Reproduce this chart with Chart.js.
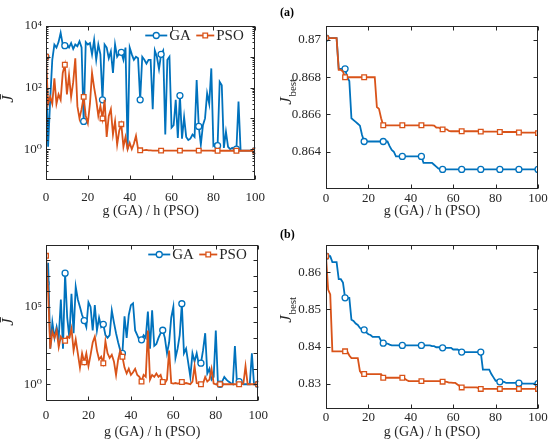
<!DOCTYPE html>
<html>
<head>
<meta charset="utf-8">
<script src="https://cdn.jsdelivr.net/npm/chart.js@4.4.1/dist/chart.umd.min.js"></script>
<style>
  body { margin: 0; background: #fff; }
  canvas { position: absolute; }
</style>
</head>
<body>
<canvas id="panelA1" width="275" height="221" style="left:0;top:0"></canvas>
<canvas id="panelA2" width="275" height="221" style="left:275px;top:0"></canvas>
<canvas id="panelB1" width="275" height="221" style="left:0;top:221px"></canvas>
<canvas id="panelB2" width="275" height="221" style="left:275px;top:221px"></canvas>
<script>
// generation index 0..100 shared by every series
const gens = Array.from({ length: 101 }, (_, i) => i);
const xTicks = [0, 20, 40, 60, 80, 100];
const markIdx = [0, 9, 18, 27, 36, 45, 55, 64, 73, 82, 91, 100];

// (a) mean cost J per generation
const gaMeanA = [
  1000, 1.2, 40, 800, 2500, 2000, 3000, 6000, 2500, 2300,
  2500, 2000, 2800, 1800, 2500, 2200, 3200, 2000, 8, 3000,
  2500, 2800, 1200, 3500, 800, 2500, 1200, 40, 2500, 2000,
  900, 1500, 300, 2500, 1000, 1300, 1400, 800, 2000, 1,
  2000, 1200, 800, 1000, 900, 40, 1000, 800, 600, 800,
  800, 20, 1600, 1000, 400, 1200, 1600, 3, 800, 1000,
  5, 6, 40, 2.3, 55, 2.2, 11, 2.5, 2, 2.2,
  3, 2.5, 175, 5.5, 1.4, 6, 10, 65, 30, 420,
  1.3, 1.5, 1.3, 155, 120, 1.1, 3.7, 1.2, 1, 1.1,
  1, 1, 35, 0.9, 0.9, 0.9, 0.9, 0.9, 0.9, 0.9,
  0.9
];
const psoMeanA = [
  1000, 30, 50, 30, 200, 30, 60, 40, 300, 550,
  60, 250, 50, 150, 900, 25, 10, 20, 50, 12,
  7, 30, 300, 100, 40, 12, 25, 10, 40, 2.5,
  12, 20, 3, 8, 1.4, 4, 6.5, 1.2, 2.5, 1,
  1.6, 1, 1.5, 2.7, 1, 0.92, 0.92, 0.93, 0.95, 0.92,
  0.92, 0.9, 0.9, 0.9, 0.9, 0.9, 0.9, 0.9, 0.9, 0.9,
  0.9, 0.9, 0.9, 0.9, 0.9, 0.9, 0.9, 0.9, 0.9, 0.9,
  0.9, 0.9, 0.9, 0.9, 0.9, 0.9, 0.9, 0.9, 0.9, 0.9,
  0.89, 0.89, 0.89, 0.89, 0.89, 0.89, 0.89, 0.89, 0.89, 0.89,
  0.89, 0.89, 0.89, 0.89, 0.89, 0.89, 0.89, 0.89, 0.89, 0.89,
  0.89
];

// (a) best cost per generation
const gaBestA = [
  0.8701, 0.8701, 0.8701, 0.8701, 0.8701, 0.8701, 0.86845, 0.86845, 0.86845, 0.86845,
  0.8680, 0.8678, 0.8658, 0.8657, 0.8656, 0.8655, 0.8654, 0.8649, 0.86455, 0.86455,
  0.86455, 0.86455, 0.86455, 0.86455, 0.86455, 0.86455, 0.86455, 0.86455, 0.86455, 0.86455,
  0.8643, 0.8641, 0.8640, 0.86375, 0.86375, 0.86375, 0.86375, 0.86375, 0.86375, 0.86375,
  0.86375, 0.86375, 0.86375, 0.86375, 0.86375, 0.86375, 0.8634, 0.8634, 0.8634, 0.8634,
  0.8634, 0.8633, 0.8632, 0.8631, 0.86305, 0.86305, 0.86305, 0.86305, 0.86305, 0.86305,
  0.86305, 0.86305, 0.86305, 0.86305, 0.86305, 0.86305, 0.86305, 0.86305, 0.86305, 0.86305,
  0.86305, 0.86305, 0.86305, 0.86305, 0.86305, 0.86305, 0.86305, 0.86305, 0.86305, 0.86305,
  0.86305, 0.86305, 0.86305, 0.86305, 0.86305, 0.86305, 0.86305, 0.86305, 0.86305, 0.86305,
  0.86305, 0.86305, 0.86305, 0.86305, 0.86305, 0.86305, 0.86305, 0.86305, 0.86305, 0.86305,
  0.86305
];
const psoBestA = [
  0.8701, 0.8701, 0.8701, 0.8701, 0.8701, 0.8701, 0.8684, 0.8684, 0.8683, 0.8680,
  0.8680, 0.8680, 0.8680, 0.8680, 0.8680, 0.8680, 0.8680, 0.8680, 0.8680, 0.8680,
  0.8680, 0.8680, 0.8680, 0.8680, 0.8664, 0.8663, 0.8658, 0.86542, 0.86542, 0.86542,
  0.86542, 0.86542, 0.86542, 0.86542, 0.86542, 0.86542, 0.86542, 0.86542, 0.86542, 0.86542,
  0.86542, 0.86542, 0.86542, 0.86542, 0.86542, 0.86542, 0.86542, 0.86542, 0.86542, 0.86542,
  0.86542, 0.8654, 0.8653, 0.8653, 0.86525, 0.8652, 0.8652, 0.8652, 0.86512, 0.8651,
  0.8651, 0.8651, 0.8651, 0.8651, 0.8651, 0.8651, 0.8651, 0.8651, 0.8651, 0.8651,
  0.8651, 0.8651, 0.8651, 0.86508, 0.86508, 0.86508, 0.86508, 0.86508, 0.86508, 0.86508,
  0.86508, 0.86508, 0.86506, 0.86506, 0.86506, 0.86506, 0.86506, 0.86506, 0.86506, 0.86506,
  0.86506, 0.86503, 0.86503, 0.86503, 0.86503, 0.86503, 0.86503, 0.86503, 0.86503, 0.86503,
  0.8650
];

// (b) mean cost J per generation
const gaMeanB = [
  3.4e6, 7e7, 200, 1e4, 1000, 5000, 1000, 3e5, 200, 1.5e7,
  2e4, 1000, 7e5, 2000, 2e6, 3e5, 1e5, 3e4, 1.3e4, 5000,
  2e5, 1e5, 3000, 1.3e5, 3000, 2e4, 5000, 7500, 1500, 1000,
  1500, 6e4, 1e4, 2000, 500, 150, 100, 2.5e4, 1000, 3e4,
  1.3e5, 1.7e5, 3000, 1500, 700, 750, 1500, 1000, 5e4, 200,
  6e4, 300, 400, 1000, 2000, 3100, 1000, 100, 500, 2e4,
  1e5, 50, 200, 1500, 1.6e5, 100, 200, 25, 3, 100,
  30, 100, 20, 23, 160, 2000, 5, 10, 2, 3,
  3000, 1.2, 1, 1.5, 3, 2, 1.5, 1.2, 1, 300,
  1, 1.5, 1.3, 1, 1, 1, 1, 100, 1, 1,
  1
];
const psoMeanB = [
  2e8, 1e6, 200, 2500, 1000, 3000, 250, 1200, 700, 650,
  1200, 1000, 4000, 150, 800, 100, 12, 100, 26, 100,
  15, 80, 500, 1200, 150, 40, 60, 23, 600, 100,
  50, 80, 30, 4, 40, 150, 60, 12, 5, 10,
  4, 6, 10, 4, 3, 1.5, 4, 3, 3000, 2,
  4, 3, 5, 3, 4, 1.4, 1.2, 2, 150, 1.2,
  1.1, 1.2, 1.1, 1.2, 1.4, 1.1, 1.2, 1.1, 1, 1.5,
  15, 1.2, 1.1, 1, 1.1, 3, 1.5, 2, 10, 1.1,
  1, 1, 1, 1, 1, 1, 1, 1, 1, 1,
  1, 1, 1, 1.1, 15, 1, 1, 1, 1, 1,
  1
];

// (b) best cost per generation
const gaBestB = [
  0.8643, 0.8643, 0.8643, 0.8627, 0.8627, 0.8627, 0.8581, 0.8581, 0.8572, 0.8531,
  0.8531, 0.8531, 0.8472, 0.8469, 0.8462, 0.8458, 0.8450, 0.8446, 0.8445, 0.8438,
  0.8433, 0.8431, 0.8426, 0.8426, 0.8426, 0.8426, 0.8415, 0.8409, 0.8408, 0.8408,
  0.8405, 0.8403, 0.8403, 0.8403, 0.8403, 0.8403, 0.8403, 0.8403, 0.8403, 0.8403,
  0.8403, 0.8403, 0.8403, 0.8403, 0.8403, 0.8403, 0.8403, 0.8403, 0.8403, 0.8403,
  0.8401, 0.8401, 0.8398, 0.8398, 0.8398, 0.83965, 0.83965, 0.83965, 0.83965, 0.83965,
  0.8392, 0.8392, 0.8392, 0.8389, 0.8385, 0.8385, 0.8385, 0.8385, 0.8385, 0.8385,
  0.8385, 0.8385, 0.8385, 0.8385, 0.8338, 0.8338, 0.8338, 0.8338, 0.8326, 0.8317,
  0.8308, 0.8308, 0.8305, 0.8305, 0.8305, 0.8302, 0.8302, 0.8302, 0.8302, 0.8302,
  0.8302, 0.83015, 0.83015, 0.8300, 0.8300, 0.8300, 0.8300, 0.8300, 0.8300, 0.8300,
  0.8300
];
const psoBestB = [
  0.8643, 0.8553, 0.8540, 0.8387, 0.8387, 0.8387, 0.8387, 0.8387, 0.8387, 0.8387,
  0.8387, 0.8376, 0.8369, 0.8369, 0.8369, 0.8369, 0.8334, 0.8326, 0.8326, 0.8326,
  0.8326, 0.8326, 0.8326, 0.8326, 0.8326, 0.8326, 0.8326, 0.8316, 0.8316, 0.8316,
  0.8316, 0.8316, 0.8316, 0.8316, 0.8316, 0.8316, 0.8316, 0.8314, 0.8310, 0.8307,
  0.8307, 0.8307, 0.8307, 0.8307, 0.8307, 0.8307, 0.8307, 0.8307, 0.8307, 0.8307,
  0.8307, 0.8307, 0.8307, 0.8307, 0.8307, 0.83055, 0.83055, 0.8305, 0.8303, 0.8303,
  0.8302, 0.8302, 0.8298, 0.8294, 0.8290, 0.8290, 0.8290, 0.8290, 0.8290, 0.8290,
  0.8290, 0.8290, 0.8288, 0.8286, 0.8286, 0.8286, 0.8286, 0.8286, 0.8286, 0.8286,
  0.8286, 0.8286, 0.8286, 0.8286, 0.8286, 0.8286, 0.8286, 0.8286, 0.8286, 0.8286,
  0.8286, 0.8286, 0.8286, 0.8286, 0.8286, 0.8286, 0.8286, 0.8286, 0.8286, 0.8286,
  0.8286
];

// y tick values / labels
const logTicksA = [1, 100, 10000];
const logLabelsA = ['10⁰', '10²', '10⁴'];
const logTicksB = [1, 1e5];
const logLabelsB = ['10⁰', '10⁵'];
const bestTicksA = [0.864, 0.866, 0.868, 0.87];
const bestLabelsA = ['0.864', '0.866', '0.868', '0.87'];
const bestTicksB = [0.83, 0.84, 0.85, 0.86];
const bestLabelsB = ['0.83', '0.84', '0.85', '0.86'];

const BLUE = '#0072BD', RED = '#D95319', INK = '#262626';
const FONT = "'Liberation Serif', 'DejaVu Serif', serif";
const W = 275, H = 221;

// decade / minor tick marks for the log boxes
const decadesA = [0.1, 1, 10, 100, 1000, 10000];
const decadesB = [0.1, 1, 10, 100, 1e3, 1e4, 1e5, 1e6, 1e7, 1e8, 1e9];
const minorA = [];
decadesA.slice(0, -1).forEach(d => { for (let m = 2; m < 10; m++) minorA.push(m * d); });

function series(label, values, color, style, radius, order) {
  return {
    label, order,
    data: values.map((v, i) => ({ x: gens[i], y: v })),
    borderColor: color,
    borderWidth: 1.8,
    pointStyle: style,
    pointBorderColor: color,
    pointBackgroundColor: '#fff',
    pointBorderWidth: 1.3,
    pointRadius: c => markIdx.includes(c.dataIndex) ? radius : 0,
    pointHoverRadius: 0,
    tension: 0,
    fill: false
  };
}

function drawMarker(ctx, style, x, y, color) {
  ctx.save();
  ctx.strokeStyle = color; ctx.fillStyle = '#fff'; ctx.lineWidth = 1.3;
  ctx.beginPath();
  if (style === 'circle') ctx.arc(x, y, 3, 0, Math.PI * 2);
  else ctx.rect(x - 2.3, y - 2.3, 4.6, 4.6);
  ctx.fill(); ctx.stroke();
  ctx.restore();
}

function framePlugin(p) {
  return {
    id: 'frame',
    afterDraw(chart) {
      const { ctx, chartArea: a } = chart;
      const xs = chart.scales.x, ys = chart.scales.y;
      const L = Math.round(a.left) + 0.5, R = Math.round(a.right) - 0.5;
      const T = Math.round(a.top) + 0.5, B = Math.round(a.bottom) - 0.5;
      ctx.save();
      ctx.strokeStyle = INK; ctx.lineWidth = 1;
      ctx.strokeRect(L, T, R - L, B - T);
      ctx.beginPath();
      xTicks.forEach(v => {
        const px = Math.round(xs.getPixelForValue(v)) + 0.5;
        ctx.moveTo(px, B); ctx.lineTo(px, B - 4);
        ctx.moveTo(px, T); ctx.lineTo(px, T + 4);
      });
      const yt = (v, len) => {
        const py = Math.round(ys.getPixelForValue(v)) + 0.5;
        if (py < T - 0.5 || py > B + 0.5) return;
        ctx.moveTo(L, py); ctx.lineTo(L + len, py);
        ctx.moveTo(R, py); ctx.lineTo(R - len, py);
      };
      p.yMajor.forEach(v => yt(v, 4));
      (p.yMinor || []).forEach(v => yt(v, 2));
      ctx.stroke();

      // y axis title
      ctx.fillStyle = INK;
      ctx.save();
      ctx.translate(p.titleX, p.titleY);
      ctx.rotate(-Math.PI / 2);
      ctx.textBaseline = 'alphabetic';
      if (p.sub) {
        ctx.font = `italic 17px ${FONT}`;
        const wJ = ctx.measureText('J').width;
        ctx.font = `11px ${FONT}`;
        const wS = ctx.measureText(p.sub).width;
        const x0 = -(wJ + wS) / 2;
        ctx.textAlign = 'left';
        ctx.font = `italic 17px ${FONT}`;
        ctx.fillText('J', x0, 0);
        ctx.font = `11px ${FONT}`;
        ctx.fillText(p.sub, x0 + wJ + 0.5, 5);
      } else {
        ctx.font = `italic 17px ${FONT}`;
        ctx.textAlign = 'center';
        ctx.fillText('J̄', 0, 0);
      }
      ctx.restore();

      // legend
      if (p.legend) {
        const y = a.top + 9.5;
        const x0 = a.right - 110;
        ctx.font = `15px ${FONT}`;
        ctx.textBaseline = 'middle';
        ctx.textAlign = 'left';
        ctx.lineWidth = 1.8;
        ctx.strokeStyle = BLUE;
        ctx.beginPath(); ctx.moveTo(x0, y); ctx.lineTo(x0 + 22, y); ctx.stroke();
        drawMarker(ctx, 'circle', x0 + 11, y, BLUE);
        ctx.fillStyle = INK; ctx.fillText('GA', x0 + 24, y + 1);
        ctx.strokeStyle = RED;
        ctx.beginPath(); ctx.moveTo(x0 + 51, y); ctx.lineTo(x0 + 69, y); ctx.stroke();
        drawMarker(ctx, 'rect', x0 + 60, y, RED);
        ctx.fillStyle = INK; ctx.fillText('PSO', x0 + 71, y + 1);
      }

      // panel tag
      if (p.tag) {
        ctx.font = `bold 12px ${FONT}`;
        ctx.textBaseline = 'middle';
        ctx.textAlign = 'left';
        ctx.fillStyle = '#000';
        ctx.fillText(p.tag, 5, p.tagY);
      }
      ctx.restore();
    }
  };
}

function makePanel(id, ga, pso, p) {
  new Chart(document.getElementById(id), {
    type: 'line',
    data: {
      datasets: [
        series('GA', ga, BLUE, 'circle', 3, 1),
        series('PSO', pso, RED, 'rect', 3.3, 0)
      ]
    },
    options: {
      responsive: false,
      animation: false,
      events: [],
      layout: { padding: { left: 0, right: W - p.r, top: p.t, bottom: 0 } },
      plugins: { legend: { display: false }, tooltip: { enabled: false } },
      scales: {
        x: {
          type: 'linear', min: 0, max: 100,
          grid: { display: false, drawTicks: false }, border: { display: false },
          afterBuildTicks: s => { s.ticks = xTicks.map(v => ({ value: v })); },
          afterFit: s => { s.height = H - p.b; },
          ticks: { color: INK, font: { family: FONT, size: 13 }, padding: p.xPad, maxRotation: 0, autoSkip: false },
          title: {
            display: true, text: 'g (GA) / h (PSO)', color: INK,
            font: { family: FONT, size: 14, lineHeight: 1.4 }, padding: 0
          }
        },
        y: {
          type: p.log ? 'logarithmic' : 'linear', min: p.min, max: p.max,
          grid: { display: false, drawTicks: false }, border: { display: false },
          afterBuildTicks: s => { s.ticks = p.yTicks.map(v => ({ value: v })); },
          afterFit: s => { s.width = p.l; },
          ticks: {
            color: INK, font: { family: FONT, size: 13 }, padding: p.yPad, autoSkip: false,
            callback: (v, i) => p.yLabels[i]
          }
        }
      }
    },
    plugins: [framePlugin(p)]
  });
}

makePanel('panelA1', gaMeanA, psoMeanA, {
  l: 46, r: 259, t: 26, b: 180, xPad: 10, yPad: 4,
  log: true, min: 0.1, max: 1e4, yTicks: logTicksA, yLabels: logLabelsA,
  yMajor: decadesA, yMinor: minorA, titleX: 13, titleY: 99, legend: true
});
makePanel('panelA2', gaBestA, psoBestA, {
  l: 51, r: 263, t: 26, b: 189, xPad: 2, yPad: 5,
  log: false, min: 0.862, max: 0.87075, yTicks: bestTicksA, yLabels: bestLabelsA,
  yMajor: bestTicksA, titleX: 16, titleY: 92, sub: 'best', tag: '(a)', tagY: 13
});
makePanel('panelB1', gaMeanB, psoMeanB, {
  l: 46, r: 259, t: 24, b: 180, xPad: 7, yPad: 4,
  log: true, min: 0.083, max: 1e9, yTicks: logTicksB, yLabels: logLabelsB,
  yMajor: decadesB, titleX: 13, titleY: 101, legend: true
});
makePanel('panelB2', gaBestB, psoBestB, {
  l: 51, r: 263, t: 24, b: 188, xPad: 1, yPad: 5,
  log: false, min: 0.8232, max: 0.8673, yTicks: bestTicksB, yLabels: bestLabelsB,
  yMajor: bestTicksB, titleX: 16, titleY: 89, sub: 'best', tag: '(b)', tagY: 14
});
</script>
</body>
</html>
